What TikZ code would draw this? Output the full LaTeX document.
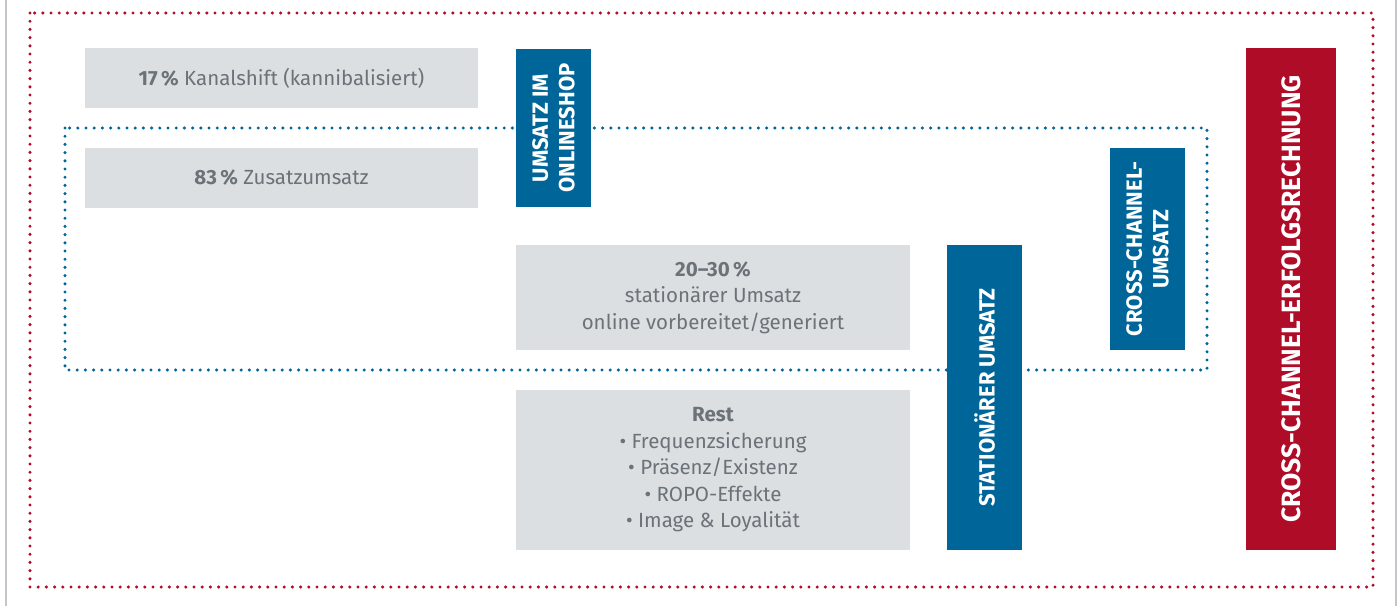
\documentclass[tikz,border=0pt]{standalone}
\usepackage{fontspec}
\setmainfont{Fira Sans}

\definecolor{boxGrey}{HTML}{DCDFE2}
\definecolor{textGrey}{HTML}{6B7278}
\definecolor{channelBlue}{HTML}{00669A}
\definecolor{channelRed}{HTML}{AF0C27}
\definecolor{frameGrey}{HTML}{C3C7CB}

\tikzset{
    greybox/.style={fill=boxGrey, text=textGrey, align=center, inner sep=0pt,
        font=\fontsize{20.5}{26.5}\selectfont},
    bluebox/.style={fill=channelBlue, text=white, rotate=90, align=center, inner sep=0pt,
        font=\bfseries\fontsize{22}{26.5}\selectfont},
    redbox/.style={fill=channelRed, text=white, rotate=90, align=center, inner sep=0pt,
        font=\bfseries\fontsize{26.5}{30}\selectfont},
    dotframe/.style={line width=3.4pt, line cap=round, dash pattern=on 0pt off 8.2pt}
}

\begin{document}
\begin{tikzpicture}[x=1pt, y=-1pt]
    \useasboundingbox (0,0) rectangle (1399,606);

    % Outer page rules
    \draw[frameGrey, line width=1.5pt] (6,0) -- (6,606);
    \draw[frameGrey, line width=1.5pt] (1396,0) -- (1396,606);

    % Dotted frames
    \draw[dotframe, channelRed] (30,13) rectangle (1373,587);
    \draw[dotframe, channelBlue] (65,128) rectangle (1207,370);

    % Online shares
    \node[greybox, minimum width=393, minimum height=60] (kanal) at (281.5,78)
        {\textbf{17\,\%} Kanalshift (kannibalisiert)};
    \node[greybox, minimum width=393, minimum height=60] (zusatz) at (281.5,177.5)
        {\textbf{83\,\%} Zusatzumsatz};
    \node[bluebox, minimum width=158, minimum height=75] (online) at (553.5,128)
        {UMSATZ IM\\ONLINESHOP};

    % Stationary shares
    \node[greybox, minimum width=394, minimum height=105] (vorbereitet) at (713,297.5)
        {\textbf{20--30\,\%}\\stationärer Umsatz\\online vorbereitet/generiert};
    \node[greybox, minimum width=394, minimum height=160] (rest) at (713,470)
        {\textbf{Rest}\\• Frequenzsicherung\\• Präsenz/Existenz\\• ROPO-Effekte\\• Image \& Loyalität};
    \node[bluebox, minimum width=305, minimum height=75] (stationaer) at (984.5,397.5)
        {STATIONÄRER UMSATZ};

    % Totals
    \node[bluebox, minimum width=202, minimum height=75] (crossumsatz) at (1147.5,249)
        {CROSS-CHANNEL-\\UMSATZ};
    \node[redbox, minimum width=502, minimum height=90] (erfolg) at (1291,299)
        {CROSS-CHANNEL-ERFOLGSRECHNUNG};

\end{tikzpicture}
\end{document}
